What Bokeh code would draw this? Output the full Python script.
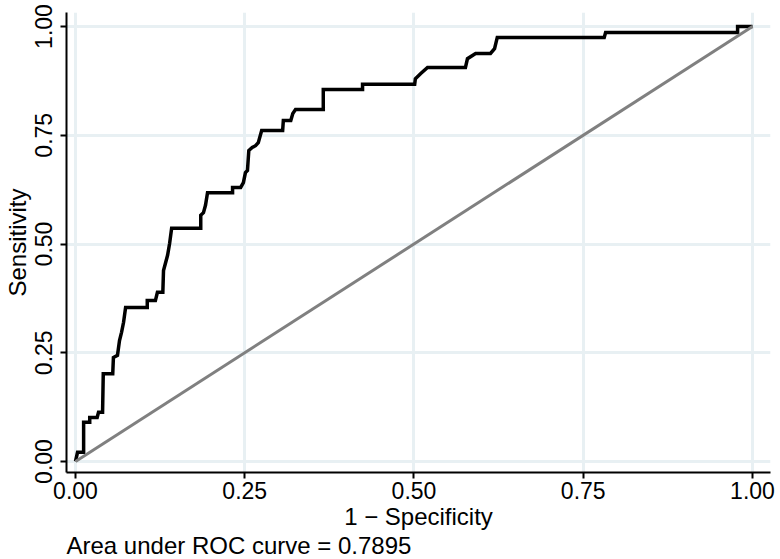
from bokeh.plotting import figure
from bokeh.models import Range1d, FixedTicker, Title, NumeralTickFormatter
from bokeh.embed import file_html
from bokeh.resources import INLINE

# ROC curve vertices (1 - specificity, sensitivity)
fpr = [0.000, 0.003, 0.012, 0.012, 0.021, 0.021, 0.032, 0.034, 0.040, 0.041,
       0.055, 0.056, 0.062, 0.065, 0.068, 0.071, 0.074, 0.106, 0.106, 0.118,
       0.121, 0.129, 0.130, 0.136, 0.139, 0.142, 0.185, 0.185, 0.189, 0.192,
       0.195, 0.232, 0.232, 0.244, 0.248, 0.251, 0.254, 0.256, 0.261, 0.266,
       0.270, 0.275, 0.306, 0.307, 0.318, 0.321, 0.325, 0.366, 0.366, 0.424,
       0.424, 0.501, 0.502, 0.510, 0.520, 0.576, 0.579, 0.591, 0.613, 0.619,
       0.623, 0.781, 0.783, 0.978, 0.978, 1.000]
tpr = [0.000, 0.021, 0.021, 0.090, 0.090, 0.101, 0.101, 0.113, 0.113, 0.202,
       0.202, 0.239, 0.244, 0.278, 0.297, 0.320, 0.354, 0.354, 0.370, 0.370,
       0.389, 0.389, 0.439, 0.474, 0.501, 0.536, 0.536, 0.566, 0.572, 0.589,
       0.618, 0.618, 0.630, 0.630, 0.641, 0.664, 0.669, 0.715, 0.722, 0.726,
       0.733, 0.761, 0.761, 0.784, 0.784, 0.800, 0.809, 0.809, 0.855, 0.855,
       0.867, 0.867, 0.880, 0.892, 0.906, 0.906, 0.926, 0.938, 0.938, 0.949,
       0.975, 0.975, 0.986, 0.986, 1.000, 1.000]
ref_x = [0.0, 1.0]
ref_y = [0.0, 1.0]
ticks = [0.0, 0.25, 0.5, 0.75, 1.0]
x_title = "1 \u2212 Specificity"
y_title = "Sensitivity"
note = "Area under ROC curve = 0.7895"

FONT = "Liberation Sans"
GRID = "#E8F0F3"

p = figure(width=780, height=559, output_backend="svg", toolbar_location=None,
           x_range=Range1d(-0.0133, 1.0266), y_range=Range1d(-0.0253, 1.0322),
           min_border_left=66, min_border_right=10, min_border_top=12, min_border_bottom=87)
p.outline_line_color = None
p.background_fill_color = "white"
p.border_fill_color = "white"

p.line(fpr, tpr, line_color="black", line_width=3.5, line_join="miter")
p.line(ref_x, ref_y, line_color="#808080", line_width=3)

for ax in (p.xaxis[0], p.yaxis[0]):
    ax.ticker = FixedTicker(ticks=ticks)
    ax.formatter = NumeralTickFormatter(format="0.00")
    ax.minor_tick_line_color = None
    ax.major_tick_in = 0
    ax.major_tick_out = 6
    ax.major_tick_line_width = 2
    ax.major_tick_line_color = "black"
    ax.axis_line_width = 2
    ax.axis_line_color = "black"
    ax.major_label_text_font = FONT
    ax.major_label_text_color = "black"
    ax.axis_label_text_font = FONT
    ax.axis_label_text_font_style = "normal"
    ax.axis_label_text_color = "black"

p.xaxis.major_label_text_font_size = "23px"
p.xaxis.axis_label = x_title
p.xaxis.axis_label_text_font_size = "24px"
p.xaxis.major_label_standoff = 3
p.xaxis.axis_label_standoff = 1

p.yaxis.major_label_text_font_size = "23px"
p.yaxis.major_label_orientation = "vertical"
p.yaxis.axis_label = y_title
p.yaxis.axis_label_text_font_size = "24px"
p.yaxis.major_label_standoff = 8
p.yaxis.axis_label_standoff = 2

for g in (p.xgrid[0], p.ygrid[0]):
    g.ticker = FixedTicker(ticks=ticks)
    g.grid_line_color = GRID
    g.grid_line_width = 3

p.add_layout(Title(text=note, align="left", text_font=FONT, text_font_size="24px",
                   text_font_style="normal", text_color="black", standoff=-6, offset=0),
             "below")

open("out.html", "w").write(file_html(p, INLINE))
